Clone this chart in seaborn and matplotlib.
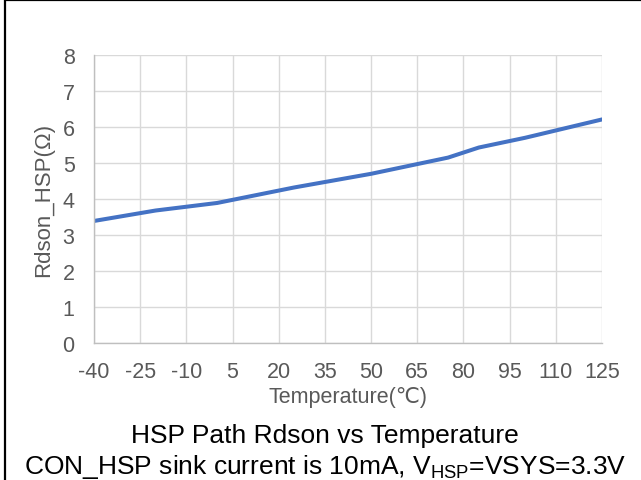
import pandas as pd
import seaborn as sns
import matplotlib.pyplot as plt
from matplotlib.lines import Line2D

temps = [-40, -20, 0, 25, 50, 75, 85, 100, 125]
rdson = [3.39, 3.68, 3.89, 4.32, 4.70, 5.15, 5.43, 5.70, 6.21]
xticks = list(range(-40, 126, 15))
yticks = list(range(0, 9))

df = pd.DataFrame({"Temperature": temps, "Rdson": rdson})

sns.set_theme(style="whitegrid")
plt.rcParams['font.family'] = ['Liberation Sans', 'DejaVu Sans']
plt.rcParams['mathtext.fontset'] = 'custom'
plt.rcParams['mathtext.rm'] = 'Liberation Sans'
plt.rcParams['axes.unicode_minus'] = False

fig = plt.figure(figsize=(6.41, 4.81), dpi=100)
ax = fig.add_axes([94 / 641, 1 - 344 / 481, (602 - 94) / 641, (344 - 56) / 481])

sns.lineplot(data=df, x="Temperature", y="Rdson", ax=ax, color="#4472C4", linewidth=2.9)

ax.set_xlim(-40, 125)
ax.set_ylim(0, 8)
ax.set_xticks(xticks)
ax.set_yticks(yticks)
ax.grid(True, color="#D9D9D9", linewidth=1.0)
for side in ["top", "right"]:
    ax.spines[side].set_visible(False)
for side in ["left", "bottom"]:
    ax.spines[side].set_color("#BFBFBF")
    ax.spines[side].set_linewidth(1.0)
ax.tick_params(axis="both", labelsize=15.5, colors="#595959", length=0)
ax.tick_params(axis="x", pad=13)
ax.tick_params(axis="y", pad=14)
ax.set_xlabel("Temperature(℃)", fontsize=15.5, color="#595959")
ax.set_ylabel("Rdson_HSP(Ω)", fontsize=16, color="#595959")
ax.xaxis.label.set_va("center")
ax.yaxis.label.set_va("center")
ax.xaxis.set_label_coords(0.5, (344 - 398) / 288)
ax.yaxis.set_label_coords((44 - 94) / 508, 0.5)

fig.text(0.507, 1 - 436 / 481, "HSP Path Rdson vs Temperature",
         ha="center", va="center", fontsize=19, color="black")
fig.text(0.507, 1 - 467 / 481,
         r"CON_HSP sink current is 10mA, V$_{\mathrm{HSP}}$=VSYS=3.3V",
         ha="center", va="center", fontsize=19, color="black")

# outer frame (top and left edges visible)
fig.add_artist(Line2D([5 / 641, 5 / 641], [0, 1 - 1 / 481], transform=fig.transFigure,
                      color="black", linewidth=1.6))
fig.add_artist(Line2D([5 / 641, 1], [1 - 1 / 481, 1 - 1 / 481], transform=fig.transFigure,
                      color="black", linewidth=1.6))

fig.savefig("out.png", dpi=100)
